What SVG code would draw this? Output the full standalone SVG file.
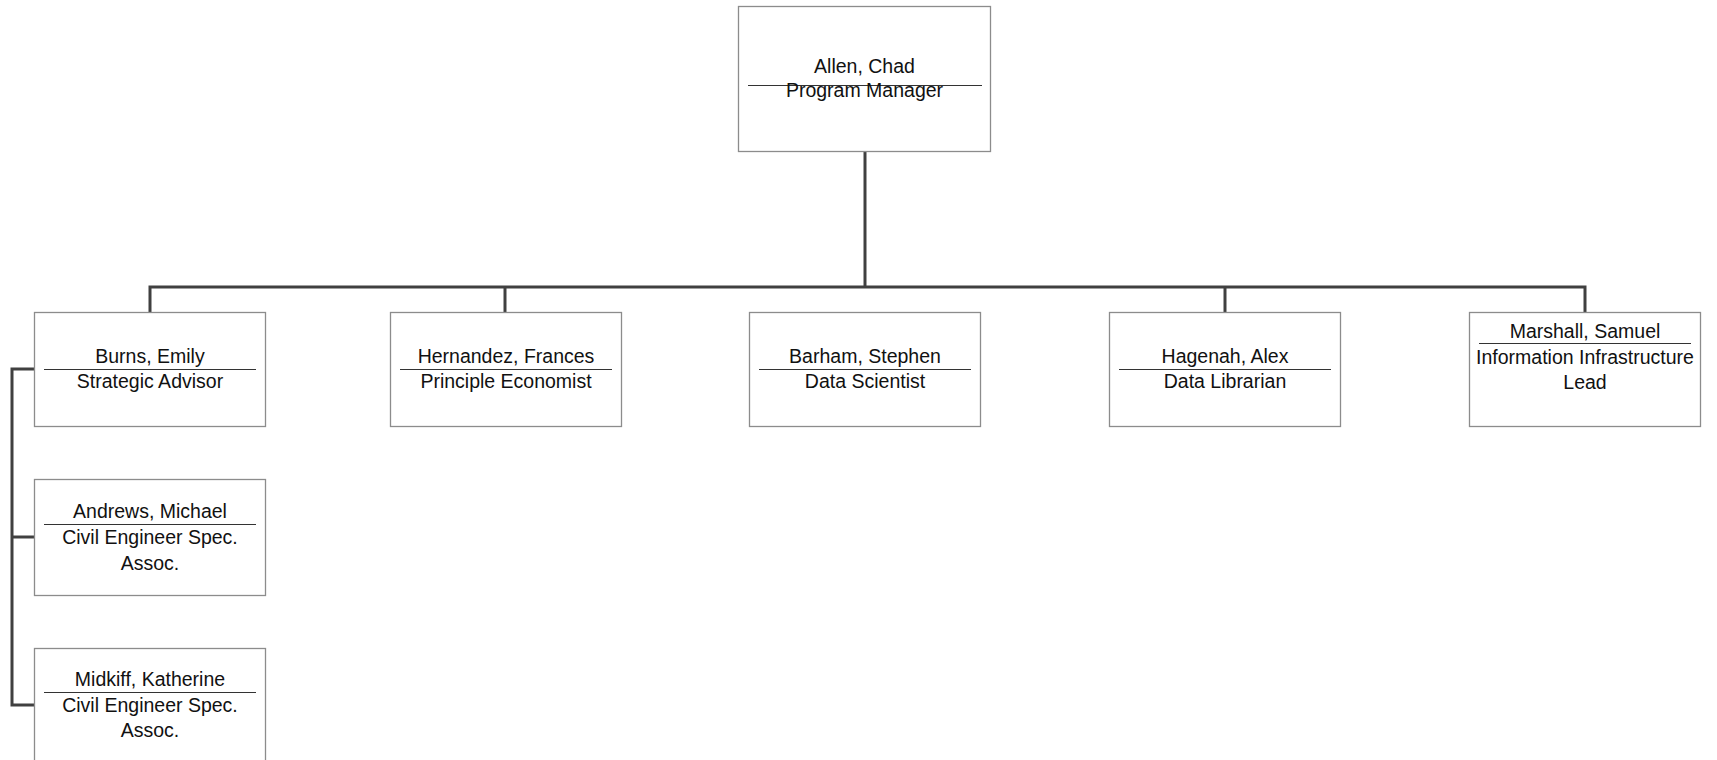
<svg xmlns="http://www.w3.org/2000/svg" width="1717" height="760" viewBox="0 0 1717 760">
<style>
.box{fill:#fff;stroke:#8c8c8c;stroke-width:1.3}
.sep{stroke:#333;stroke-width:1}
.t{font-family:"Liberation Sans",Arial,sans-serif;font-size:19.5px;fill:#111;text-anchor:middle}
.c{fill:none;stroke:#404040;stroke-width:3;stroke-linejoin:miter}
</style>
<rect width="1717" height="760" fill="#fff"/>
<g id="connectors">
<path class="c" d="M865 151 V287"/>
<path class="c" d="M150 312 V287 H1585 V312"/>
<path class="c" d="M505 287 V312"/>
<path class="c" d="M1225 287 V312"/>
<path class="c" d="M34 369 H12 V705 H34"/>
<path class="c" d="M12 537 H34"/>
</g>
<g id="allen">
<rect class="box" x="738.5" y="6.5" width="252" height="145"/>
<line class="sep" x1="748" y1="85.5" x2="982" y2="85.5"/>
<text class="t" x="864.5" y="73">Allen, Chad</text>
<text class="t" x="864.5" y="97">Program Manager</text>
</g>
<g id="burns">
<rect class="box" x="34.5" y="312.5" width="231" height="114"/>
<line class="sep" x1="44" y1="369.5" x2="256" y2="369.5"/>
<text class="t" x="150" y="363">Burns, Emily</text>
<text class="t" x="150" y="388">Strategic Advisor</text>
</g>
<g id="hernandez">
<rect class="box" x="390.5" y="312.5" width="231" height="114"/>
<line class="sep" x1="400" y1="369.5" x2="612" y2="369.5"/>
<text class="t" x="506" y="363">Hernandez, Frances</text>
<text class="t" x="506" y="388">Principle Economist</text>
</g>
<g id="barham">
<rect class="box" x="749.5" y="312.5" width="231" height="114"/>
<line class="sep" x1="759" y1="369.5" x2="971" y2="369.5"/>
<text class="t" x="865" y="363">Barham, Stephen</text>
<text class="t" x="865" y="388">Data Scientist</text>
</g>
<g id="hagenah">
<rect class="box" x="1109.5" y="312.5" width="231" height="114"/>
<line class="sep" x1="1119" y1="369.5" x2="1331" y2="369.5"/>
<text class="t" x="1225" y="363">Hagenah, Alex</text>
<text class="t" x="1225" y="388">Data Librarian</text>
</g>
<g id="marshall">
<rect class="box" x="1469.5" y="312.5" width="231" height="114"/>
<line class="sep" x1="1479" y1="343.5" x2="1691" y2="343.5"/>
<text class="t" x="1585" y="338">Marshall, Samuel</text>
<text class="t" x="1585" y="364">Information Infrastructure</text>
<text class="t" x="1585" y="389">Lead</text>
</g>
<g id="andrews">
<rect class="box" x="34.5" y="479.5" width="231" height="116"/>
<line class="sep" x1="44" y1="524.5" x2="256" y2="524.5"/>
<text class="t" x="150" y="518">Andrews, Michael</text>
<text class="t" x="150" y="544">Civil Engineer Spec.</text>
<text class="t" x="150" y="570">Assoc.</text>
</g>
<g id="midkiff">
<rect class="box" x="34.5" y="648.5" width="231" height="116"/>
<line class="sep" x1="44" y1="692.5" x2="256" y2="692.5"/>
<text class="t" x="150" y="686">Midkiff, Katherine</text>
<text class="t" x="150" y="712">Civil Engineer Spec.</text>
<text class="t" x="150" y="737">Assoc.</text>
</g>
</svg>
